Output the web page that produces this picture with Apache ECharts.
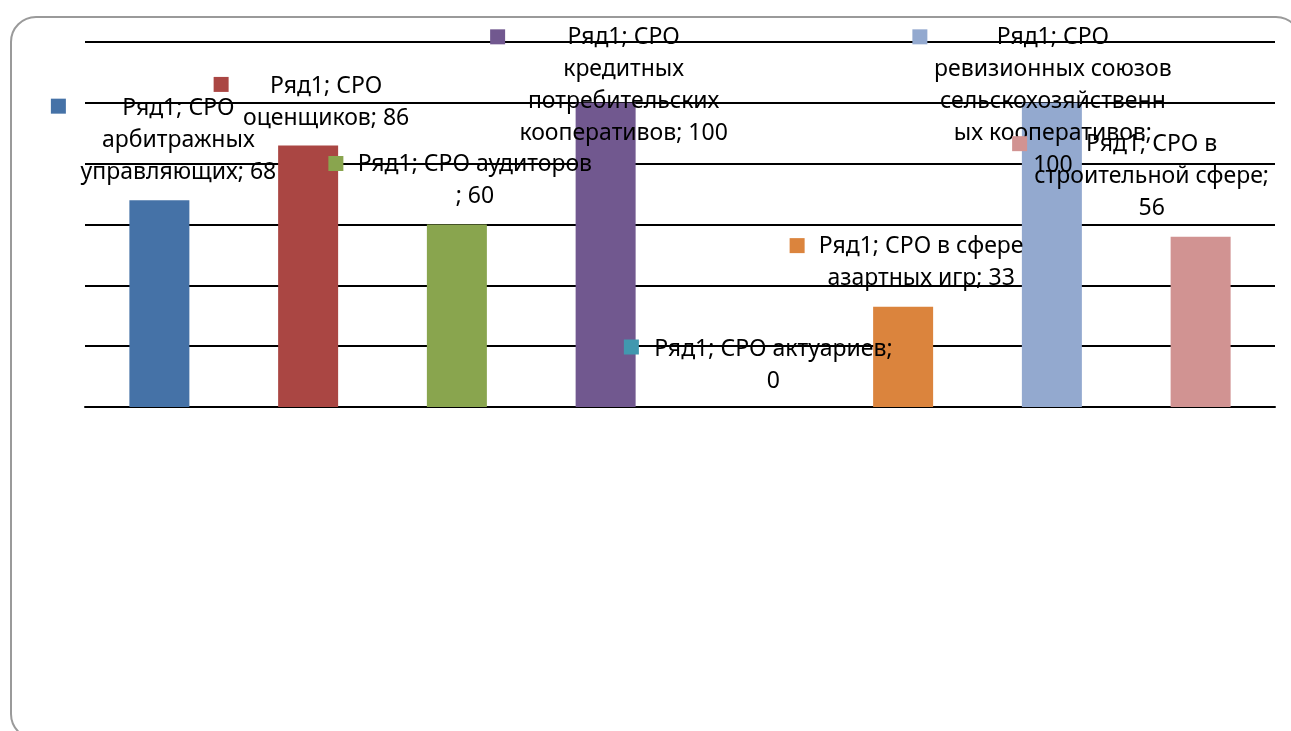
<!DOCTYPE html>
<html>
<head>
<meta charset="utf-8">
<script src="https://cdn.jsdelivr.net/npm/echarts@6/dist/echarts.min.js"></script>
<style>
  html, body { margin: 0; padding: 0; background: #fff; }
  #frame { position: absolute; left: 10px; top: 16px; width: 1292px; height: 724px;
           border: 2px solid #9a9a9a; border-radius: 26px; box-sizing: border-box; }
  #main { position: absolute; left: 0; top: 0; width: 1291px; height: 731px; }
</style>
</head>
<body>
<div id="frame"></div>
<div id="main"></div>
<script>
// данные
const seriesName = 'Ряд1';
const categories = [
  'СРО арбитражных управляющих',
  'СРО оценщиков',
  'СРО аудиторов',
  'СРО кредитных потребительских кооперативов',
  'СРО актуариев',
  'СРО в сфере азартных игр',
  'СРО ревизионных союзов сельскохозяйственных кооперативов',
  'СРО в строительной сфере'
];
const values = [68, 86, 60, 100, 0, 33, 100, 56];
const yTicks = [0, 20, 40, 60, 80, 100, 120];

// подписи как в Excel ({a} - ряд, {c} - значение)
const labelWraps = [
  '{a}; СРО\nарбитражных\nуправляющих; {c}',
  '{a}; СРО\nоценщиков; {c}',
  '{a}; СРО аудиторов\n; {c}',
  '{a}; СРО\nкредитных\nпотребительских\nкооперативов; {c}',
  '{a}; СРО актуариев;\n{c}',
  '{a}; СРО в сфере\nазартных игр; {c}',
  '{a}; СРО\nревизионных союзов\nсельскохозяйственн\nых кооперативов;\n{c}',
  '{a}; СРО в\nстроительной сфере;\n{c}'
];

// оформление
const colors = ['#4572A7', '#AA4643', '#89A54E', '#71588F', '#4198AF', '#DB843D', '#93A9CF', '#D19392'];
const labelOffsets = [[19, -108], [18, -75], [18, -76], [18, -81], [19, -74], [18, -76], [1, -81], [-49, -108]];
const keyOffsets = [[-101, -94], [-87, -61], [-121, -61], [-108, -66], [-123, -60], [-106, -61], [-132, -66], [-181, -93]];

const myChart = echarts.init(document.getElementById('main'));

const option = {
  animation: false,
  grid: { left: 85, right: 16, top: 42, bottom: 324 },
  xAxis: {
    type: 'category',
    data: categories,
    axisLabel: { show: false },
    axisTick: { show: false },
    axisLine: { lineStyle: { color: '#000', width: 2 } }
  },
  yAxis: {
    type: 'value',
    min: yTicks[0],
    max: yTicks[yTicks.length - 1],
    interval: yTicks[1] - yTicks[0],
    axisLabel: { show: false },
    axisLine: { show: false },
    axisTick: { show: false },
    splitLine: { lineStyle: { color: '#000', width: 2 } }
  },
  series: [
    {
      name: seriesName,
      type: 'bar',
      barWidth: 60,
      barGap: '-100%',
      label: {
        show: true,
        position: 'top',
        distance: 0,
        align: 'center',
        verticalAlign: 'top',
        fontFamily: 'Noto Sans',
        fontSize: 23,
        lineHeight: 32,
        color: '#000'
      },
      data: values.map((v, i) => ({
        value: v,
        itemStyle: { color: colors[i] },
        label: { formatter: labelWraps[i], offset: labelOffsets[i] }
      }))
    },
    {
      // квадратики-ключи у подписей
      name: 'key',
      type: 'bar',
      barWidth: 60,
      barGap: '-100%',
      itemStyle: { color: 'rgba(0,0,0,0)' },
      label: {
        show: true,
        position: 'top',
        distance: 0,
        align: 'center',
        verticalAlign: 'middle',
        formatter: '{k|}'
      },
      data: values.map((v, i) => ({
        value: v,
        label: {
          offset: keyOffsets[i],
          rich: { k: { width: 15, height: 15, backgroundColor: colors[i] } }
        }
      }))
    }
  ]
};

myChart.setOption(option);
</script>
</body>
</html>
